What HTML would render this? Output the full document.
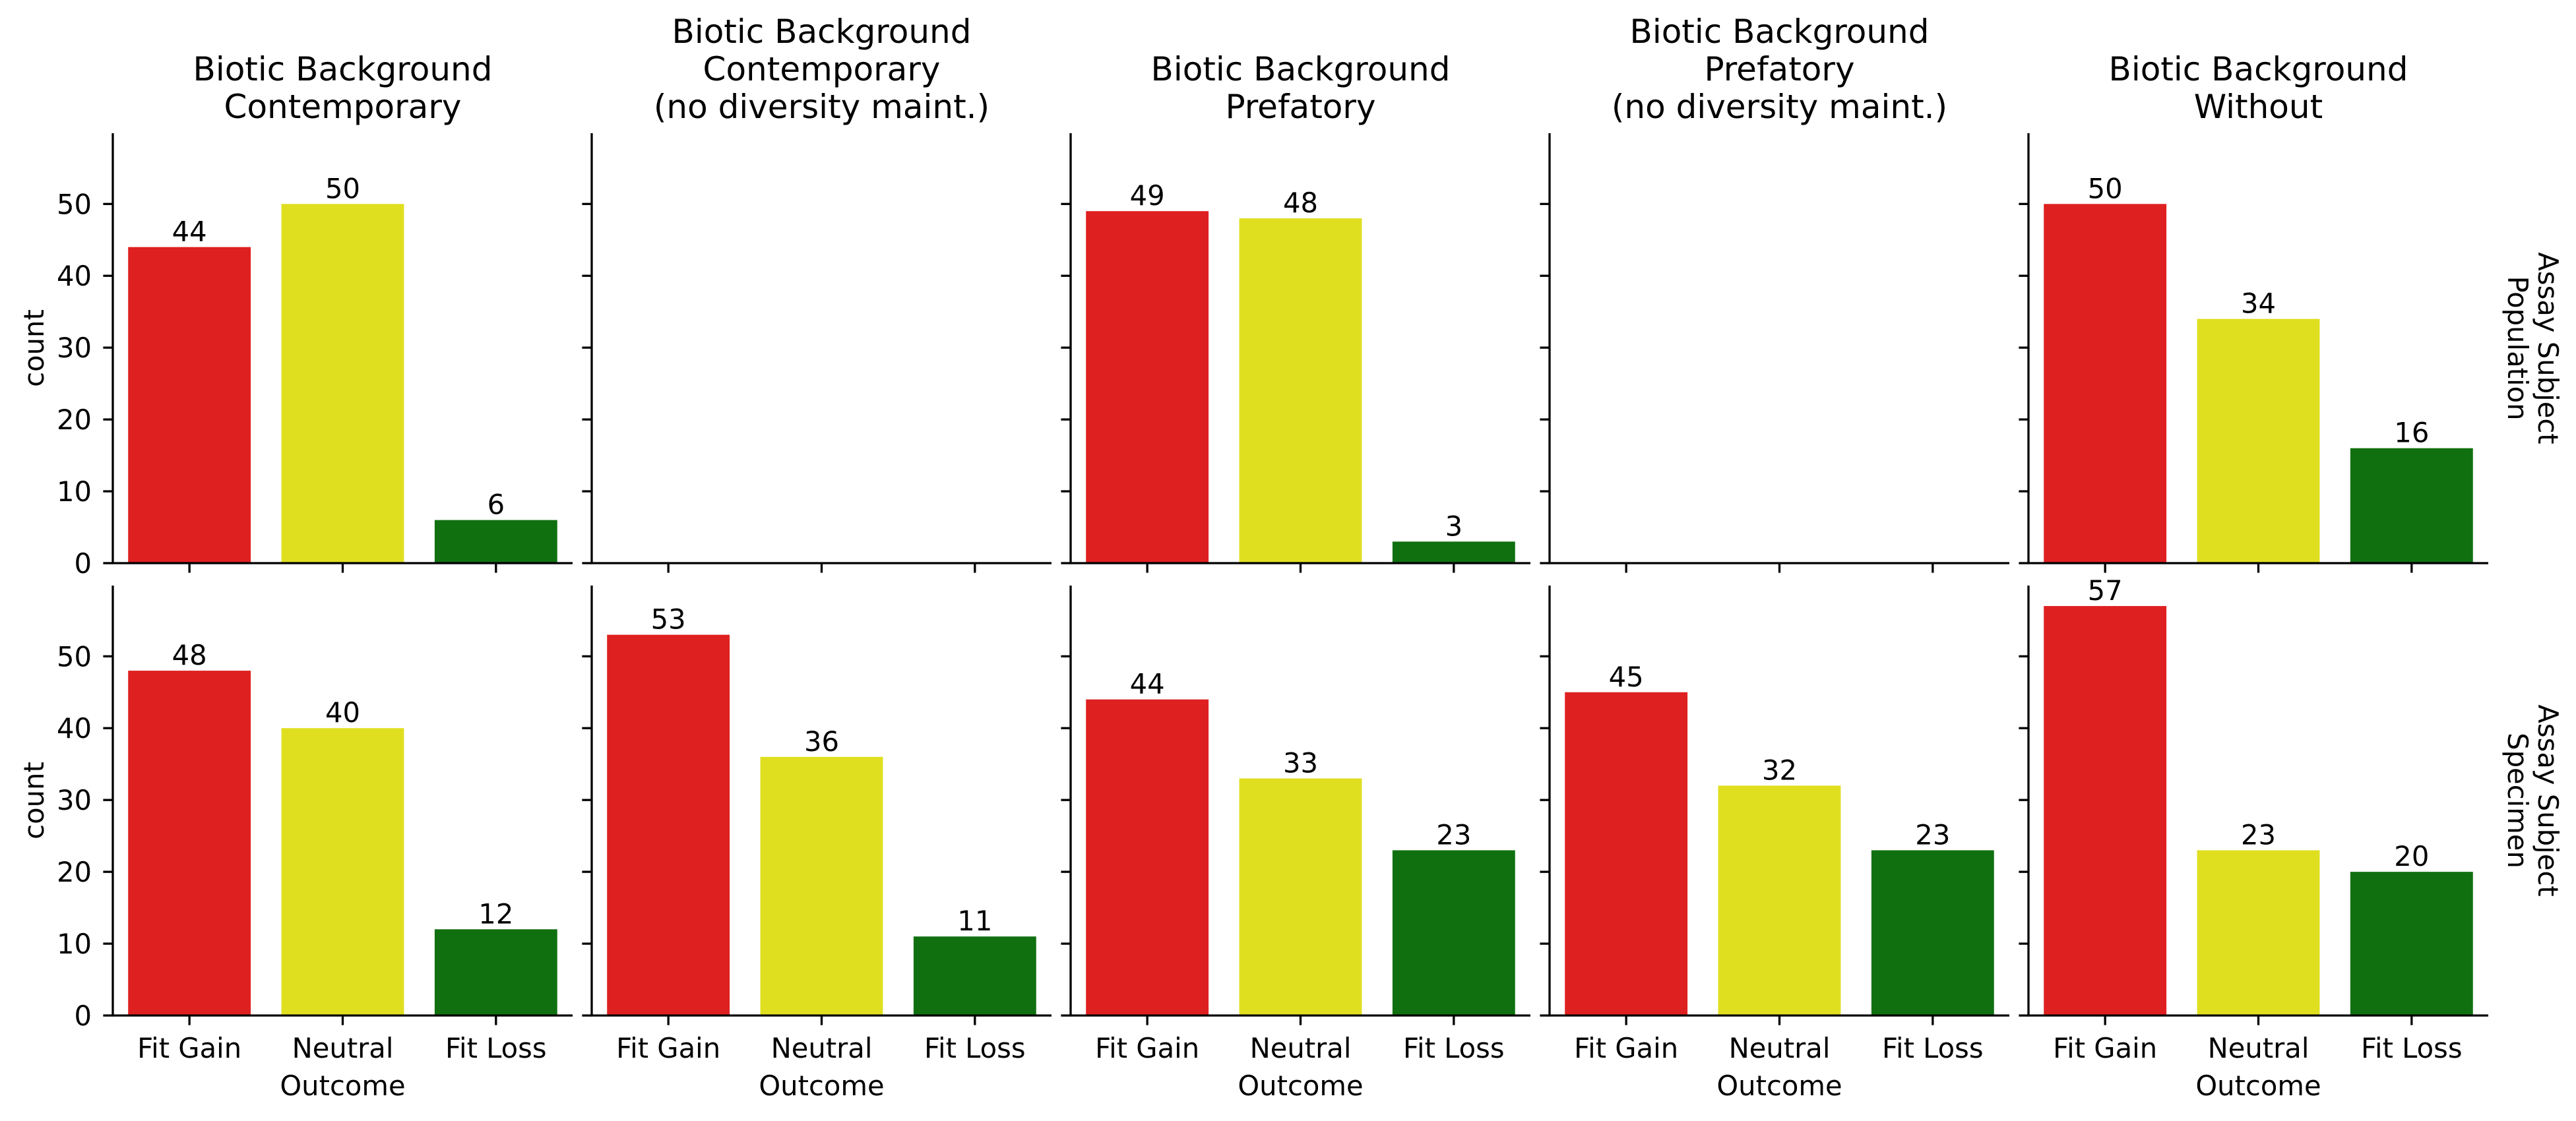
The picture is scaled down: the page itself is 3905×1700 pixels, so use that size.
<!DOCTYPE html>
<html><head><meta charset="utf-8"><style>
html,body{margin:0;padding:0;background:#fff;}
svg{display:block;font-family:"DejaVu Sans","Liberation Sans",sans-serif;}
</style></head><body>
<svg id="chart" width="3905" height="1700" viewBox="0 0 3905 1700" xmlns="http://www.w3.org/2000/svg"></svg>
<script>
const categories = ["Fit Gain", "Neutral", "Fit Loss"];
const colTitles = [
  ["Biotic Background", "Contemporary"],
  ["Biotic Background", "Contemporary", "(no diversity maint.)"],
  ["Biotic Background", "Prefatory"],
  ["Biotic Background", "Prefatory", "(no diversity maint.)"],
  ["Biotic Background", "Without"]
];
const rowTitles = [["Assay Subject", "Population"], ["Assay Subject", "Specimen"]];
const populationCounts = [[44, 50, 6], [], [49, 48, 3], [], [50, 34, 16]];
const specimenCounts = [[48, 40, 12], [53, 36, 11], [44, 33, 23], [45, 32, 23], [57, 23, 20]];
const yTicks = [0, 10, 20, 30, 40, 50];
const colors = ["#df2020", "#dfdf20", "#107010"];

const NS = "http://www.w3.org/2000/svg";
const svg = document.getElementById("chart");
const rows = [populationCounts, specimenCounts];
const axLeft0 = 171, axPitch = 726, axW = 697;
const rowBottoms = [854, 1540], axH = 652, yMax = 59.85;
function mk(tag, attrs, parent) {
  const e = document.createElementNS(NS, tag);
  for (const k in attrs) e.setAttribute(k, attrs[k]);
  (parent || svg).appendChild(e);
  return e;
}
function xBand(c, i) { return axLeft0 + c * axPitch + (i + 0.5) * axW / categories.length; }
function yScale(r, v) { return rowBottoms[r] - v * axH / yMax; }

for (let c = 0; c < colTitles.length; c++) {
  const cx = axLeft0 + c * axPitch + axW / 2;
  const lines = colTitles[c];
  const t = mk("text", {x: cx, "text-anchor": "middle", "font-size": 50});
  
  
  lines.forEach((ln, k) => {
    const ts = mk("tspan", {x: cx, y: 179 - (lines.length - 1 - k) * 57}, t);
    ts.textContent = ln;
  });
}

for (let r = 0; r < 2; r++) {
  const bottom = rowBottoms[r];
  for (let c = 0; c < 5; c++) {
    const left = axLeft0 + c * axPitch;
    const g = mk("g", {});
    
    
    const vals = rows[r][c];
    const bw = 0.8 * axW / categories.length;
    vals.forEach((v, i) => {
      const x = xBand(c, i) - bw / 2;
      const b = mk("rect", {x: x, y: yScale(r, v), width: bw, height: bottom - yScale(r, v), fill: colors[i]}, g);
      
      
      const lab = mk("text", {x: xBand(c, i), y: yScale(r, v) - 9, "text-anchor": "middle", "font-size": 41.7}, g);
      
      
      lab.textContent = v;
    });
    // spines
    const ys = mk("line", {x1: left, x2: left, y1: bottom - axH, y2: bottom + 1.5, stroke: "#000", "stroke-width": 3.3}, g);
    
    
    const xs = mk("line", {x1: left - 1.5, x2: left + axW, y1: bottom, y2: bottom, stroke: "#000", "stroke-width": 3.3}, g);
    
    
    yTicks.forEach(tv => {
      const y = yScale(r, tv);
      const tk = mk("line", {x1: left - 14.6, x2: left, y1: y, y2: y, stroke: "#000", "stroke-width": 3.3}, g);
      
      
      if (c === 0) {
        const tl = mk("text", {x: left - 32, y: y + 15, "text-anchor": "end", "font-size": 41.7}, g);
        
        
        tl.textContent = tv;
      }
    });
    categories.forEach((cat, i) => {
      const x = xBand(c, i);
      const tk = mk("line", {x1: x, x2: x, y1: bottom, y2: bottom + 14.6, stroke: "#000", "stroke-width": 3.3}, g);
      
      
      if (r === 1) {
        const tl = mk("text", {x: x, y: bottom + 64, "text-anchor": "middle", "font-size": 41.7}, g);
        
        
        tl.textContent = cat;
      }
    });
    if (r === 1) {
      const xl = mk("text", {x: left + axW / 2, y: bottom + 121, "text-anchor": "middle", "font-size": 41.7}, g);
      
      
      xl.textContent = "Outcome";
    }
  }
  const cy = bottom - axH / 2;
  const yl = mk("text", {x: 0, y: 0, transform: `translate(66,${cy}) rotate(-90)`, "text-anchor": "middle", "font-size": 41.7});
  
  
  yl.textContent = "count";
  const rt = mk("text", {transform: `translate(3840,${cy}) rotate(90)`, "text-anchor": "middle", "font-size": 41.7});
  
  
  rowTitles[r].forEach((ln, k) => {
    const ts = mk("tspan", {x: 0, y: k * 46 - 8}, rt);
    ts.textContent = ln;
  });
}
</script>
</body></html>
